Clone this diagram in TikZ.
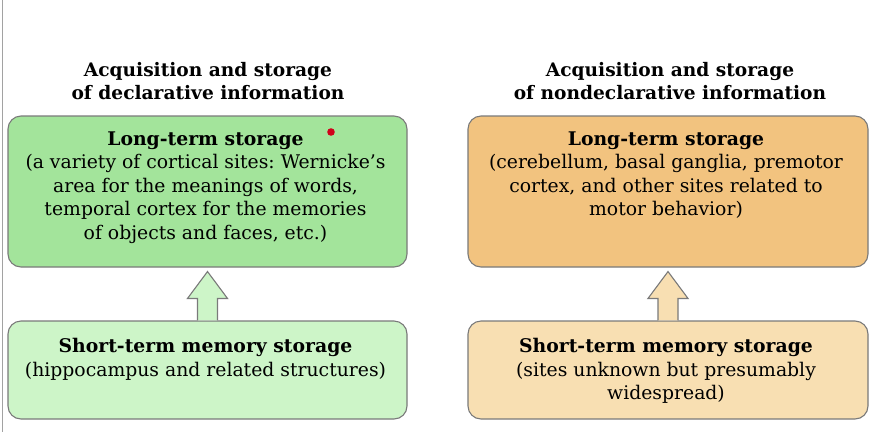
\documentclass[tikz,border=0pt]{standalone}
\usepackage{fontspec}
\setmainfont{DejaVu Serif}
\usetikzlibrary{calc}
\frenchspacing
\definecolor{gtop}{HTML}{A3E49B}
\definecolor{gbot}{HTML}{CDF5C8}
\definecolor{otop}{HTML}{F2C37F}
\definecolor{obot}{HTML}{F8DFB2}
\definecolor{edge}{HTML}{7A7A7A}
\definecolor{dotred}{HTML}{D0021B}
\tikzset{
  panel/.style={draw=edge, line width=1.1pt, rounded corners=13pt, inner sep=0pt},
  bodytext/.style={align=center, inner sep=0pt, font=\fontsize{18.8}{23.5}\selectfont},
  titletext/.style={align=center, inner sep=0pt, font=\fontsize{18.6}{23}\selectfont\bfseries},
  blockarrow/.style={draw=edge, line width=1.1pt, line join=miter}
}
\begin{document}
\begin{tikzpicture}[x=1pt,y=-1pt]
\useasboundingbox (0,0) rectangle (878,432);
\fill[white] (0,0) rectangle (878,432);
\draw[edge!70, line width=0.8pt] (2,0) -- (2,432);

% titles
\node[titletext] (t1) at (208,81) {Acquisition and storage\\of declarative information};
\node[titletext] (t2) at (670,81) {Acquisition and storage\\of nondeclarative information};

% boxes
\node[panel, fill=gtop, minimum width=399pt, minimum height=151pt] (lt1) at (207.5,191.5) {};
\node[panel, fill=gbot, minimum width=399pt, minimum height=98pt] (st1) at (207.5,370) {};
\node[panel, fill=otop, minimum width=400pt, minimum height=151pt] (lt2) at (668,191.5) {};
\node[panel, fill=obot, minimum width=400pt, minimum height=98pt] (st2) at (668,370) {};

% arrows
\draw[blockarrow, fill=gbot]
  ($(st1.north)+(-10,0)$) -- ++(0,-22) -- ++(-10,0) -- ($(lt1.south)+(0,4)$)
  -- ($(st1.north)+(20,-22)$) -- ++(-10,0) -- ($(st1.north)+(10,0)$);
\draw[blockarrow, fill=obot]
  ($(st2.north)+(-10,0)$) -- ++(0,-22) -- ++(-10,0) -- ($(lt2.south)+(0,4)$)
  -- ($(st2.north)+(20,-22)$) -- ++(-10,0) -- ($(st2.north)+(10,0)$);

% texts
\node[bodytext, anchor=north] (x1) at ($(lt1.north)+(-2,16)$)
  {\textbf{Long-term storage}\\(a variety of cortical sites: Wernicke’s\\area for the meanings of words,\\temporal cortex for the memories\\of objects and faces, etc.)};
\node[bodytext, anchor=north] (x2) at ($(lt2.north)+(-2,16)$)
  {\textbf{Long-term storage}\\(cerebellum, basal ganglia, premotor\\cortex, and other sites related to\\motor behavior)};
\node[bodytext, anchor=north] (x3) at ($(st1.north)+(-2,18)$)
  {\textbf{Short-term memory storage}\\(hippocampus and related structures)};
\node[bodytext, anchor=north] (x4) at ($(st2.north)+(-2,18)$)
  {\textbf{Short-term memory storage}\\(sites unknown but presumably\\widespread)};

\fill[dotred] (331,132) circle (3.8pt);
\end{tikzpicture}
\end{document}
